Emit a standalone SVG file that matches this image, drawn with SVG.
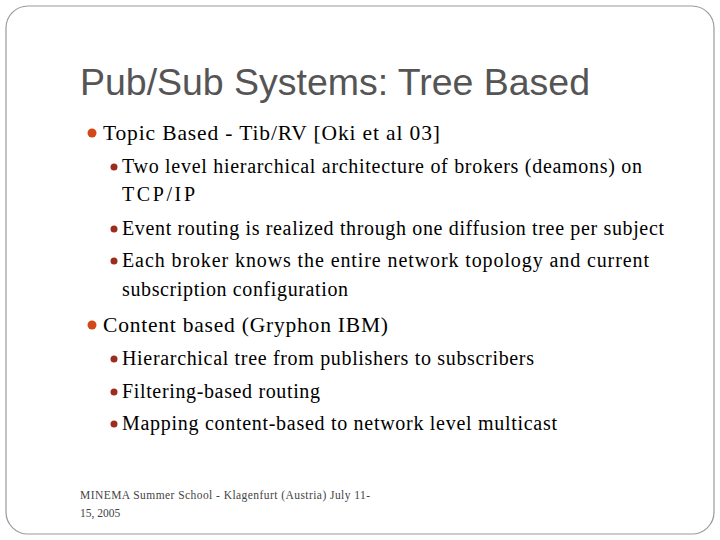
<svg xmlns="http://www.w3.org/2000/svg" width="720" height="540" viewBox="0 0 720 540">
<style>
.t{font-family:"Liberation Serif",serif;fill:#000}
.l1{font-size:21.5px}
.l2{font-size:20px}
.b1{fill:#d34817}
.b2{fill:#9b2d1f}
</style>
<rect width="720" height="540" fill="#fff"/>
<rect x="6" y="6" width="708" height="528" rx="22" fill="#fff" stroke="#999" stroke-width="1.2"/>
<text x="80" y="95" font-family="Liberation Sans,sans-serif" font-size="37.5" fill="#555" textLength="510">Pub/Sub Systems: Tree Based</text>
<g id="bullets">
<circle class="b1" cx="92" cy="133" r="4.5"/>
<circle class="b2" cx="114" cy="167" r="3.5"/>
<circle class="b2" cx="114" cy="229" r="3.5"/>
<circle class="b2" cx="114" cy="261" r="3.5"/>
<circle class="b1" cx="92" cy="325" r="4.5"/>
<circle class="b2" cx="114" cy="359" r="3.5"/>
<circle class="b2" cx="114" cy="392" r="3.5"/>
<circle class="b2" cx="114" cy="424" r="3.5"/>
</g>
<g id="text" class="t">
<text class="l1" x="103" y="140" textLength="337">Topic Based - Tib/RV [Oki et al 03]</text>
<text class="l2" x="122" y="173" textLength="520">Two level hierarchical architecture of brokers (deamons) on</text>
<text class="l2" x="122" y="201" textLength="73">TCP/IP</text>
<text class="l2" x="122" y="235" textLength="542">Event routing is realized through one diffusion tree per subject</text>
<text class="l2" x="122" y="267" textLength="527">Each  broker knows the entire network topology and current</text>
<text class="l2" x="122" y="296" textLength="226">subscription configuration</text>
<text class="l1" x="103" y="332" textLength="285">Content based (Gryphon IBM)</text>
<text class="l2" x="122" y="365" textLength="412">Hierarchical tree from publishers to subscribers</text>
<text class="l2" x="122" y="398" textLength="198">Filtering-based routing</text>
<text class="l2" x="122" y="430" textLength="435">Mapping content-based to network level multicast</text>
</g>
<g id="footer" font-family="Liberation Serif,serif" font-size="11.5" fill="#444">
<text x="80" y="499" textLength="290">MINEMA Summer School - Klagenfurt (Austria) July 11-</text>
<text x="80" y="517">15, 2005</text>
</g>
</svg>
